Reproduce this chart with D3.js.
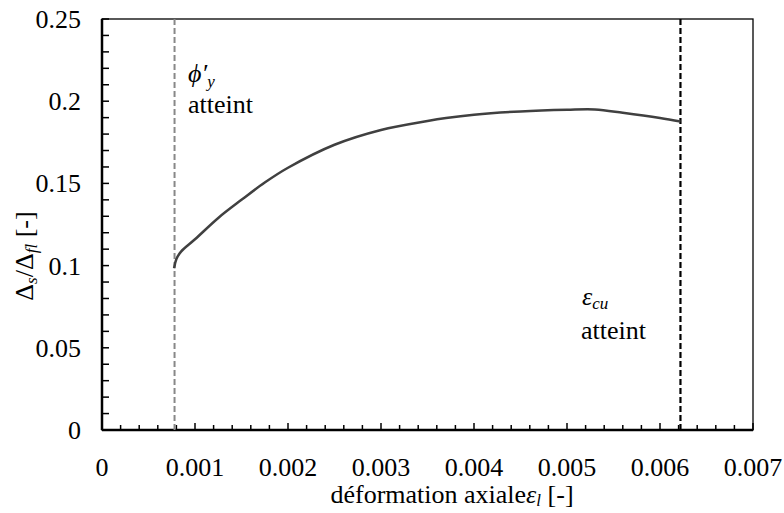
<!DOCTYPE html>
<html><head><meta charset="utf-8">
<script src="https://cdn.jsdelivr.net/npm/d3@7"></script>
<style>body{margin:0;background:#fff}</style>
</head><body>
<svg id="c" width="784" height="513"></svg>
<script>
const strain = [0.000775,0.000800,0.000850,0.00100,0.00125,0.00150,0.00175,0.00200,0.00250,0.00300,0.00350,0.00370,0.00400,0.00450,0.00500,0.00530,0.00560,0.00600,0.00622];
const ratio  = [0.0984,0.1040,0.1085,0.1160,0.1290,0.1400,0.1505,0.1595,0.1735,0.1825,0.1880,0.1898,0.1918,0.1938,0.1948,0.1950,0.1930,0.1898,0.1876];
const xTicks = [0,0.001,0.002,0.003,0.004,0.005,0.006,0.007];
const yTicks = [0,0.05,0.1,0.15,0.2,0.25];
const phiY = 0.00078;
const epsCu = 0.00622;

const svg = d3.select("#c");
const L=102, R=753, T=19, B=430;
const xs = d3.scaleLinear().domain([0,0.007]).range([L,R]);
const ys = d3.scaleLinear().domain([0,0.25]).range([B,T]);
const fs = 26, sub = 17;
function txt(sel){ return sel.append("text").style("font-family",'"Times New Roman"').attr("font-size",fs); }

svg.append("rect").attr("x",L).attr("y",T).attr("width",R-L).attr("height",B-T)
  .attr("fill","none").attr("stroke","#000").attr("stroke-width",1.3);

const minorX = d3.range(0,0.00701,0.0002);
svg.append("g").selectAll("line").data(minorX).join("line")
  .attr("x1",d=>xs(d)).attr("x2",d=>xs(d)).attr("y1",B)
  .attr("y2",(d,i)=> i%5===0 ? B-7 : B-5)
  .attr("stroke","#000").attr("stroke-width",1.5);
const minorY = d3.range(0,0.2501,0.01);
svg.append("g").selectAll("line").data(minorY).join("line")
  .attr("y1",d=>ys(d)).attr("y2",d=>ys(d)).attr("x1",L).attr("x2",L+7)
  .attr("stroke","#000").attr("stroke-width",1.5);
svg.append("line").attr("x1",L).attr("x2",R).attr("y1",B).attr("y2",B).attr("stroke","#000").attr("stroke-width",2.5);
svg.append("line").attr("x1",L).attr("x2",L).attr("y1",T).attr("y2",B).attr("stroke","#000").attr("stroke-width",2.5);

xTicks.forEach(d=>{
  txt(svg).attr("x",xs(d)).attr("y",476).attr("text-anchor","middle").text(d===0?"0":d3.format(".3f")(d));
});
yTicks.forEach(d=>{
  txt(svg).attr("x",81).attr("y",ys(d)+9).attr("text-anchor","end").text(d===0?"0":String(d));
});

svg.append("line").attr("x1",xs(phiY)).attr("x2",xs(phiY)).attr("y1",T).attr("y2",B)
  .attr("stroke","#888").attr("stroke-width",2).attr("stroke-dasharray","6,3");
svg.append("line").attr("x1",xs(epsCu)).attr("x2",xs(epsCu)).attr("y1",T).attr("y2",B)
  .attr("stroke","#000").attr("stroke-width",2.2).attr("stroke-dasharray","6,3");

const line = d3.line().x((d,i)=>xs(strain[i])).y(d=>ys(d)).curve(d3.curveCatmullRom.alpha(0.5));
svg.append("path").attr("d",line(ratio)).attr("fill","none").attr("stroke","#404040").attr("stroke-width",2.5);

const a1 = txt(svg).attr("x",188).attr("y",82);
a1.append("tspan").attr("font-style","italic").text("ϕ′");
a1.append("tspan").attr("font-style","italic").attr("font-size",sub).attr("dy",5).text("y");
txt(svg).attr("x",188).attr("y",113).text("atteint");
const a2 = txt(svg).attr("x",582).attr("y",305);
a2.append("tspan").attr("font-style","italic").text("ε");
a2.append("tspan").attr("font-style","italic").attr("font-size",sub).attr("dy",4).text("cu");
txt(svg).attr("x",581).attr("y",339).text("atteint");

const xt = txt(svg).attr("x",452).attr("y",503).attr("text-anchor","middle");
xt.append("tspan").text("déformation axiale");
xt.append("tspan").attr("font-style","italic").text("ε");
xt.append("tspan").attr("font-style","italic").attr("font-size",sub).attr("dy",3).text("l");
xt.append("tspan").attr("dy",-3).text(" [-]");
const yt = txt(svg).attr("transform","translate(33,256) rotate(-90)").attr("text-anchor","middle");
yt.append("tspan").text("Δ");
yt.append("tspan").attr("font-style","italic").attr("font-size",sub).attr("dy",4).text("s");
yt.append("tspan").attr("dy",-4).text("/Δ");
yt.append("tspan").attr("font-style","italic").attr("font-size",sub).attr("dy",4).text("fl");
yt.append("tspan").attr("dy",-4).text(" [-]");
</script>
</body></html>
